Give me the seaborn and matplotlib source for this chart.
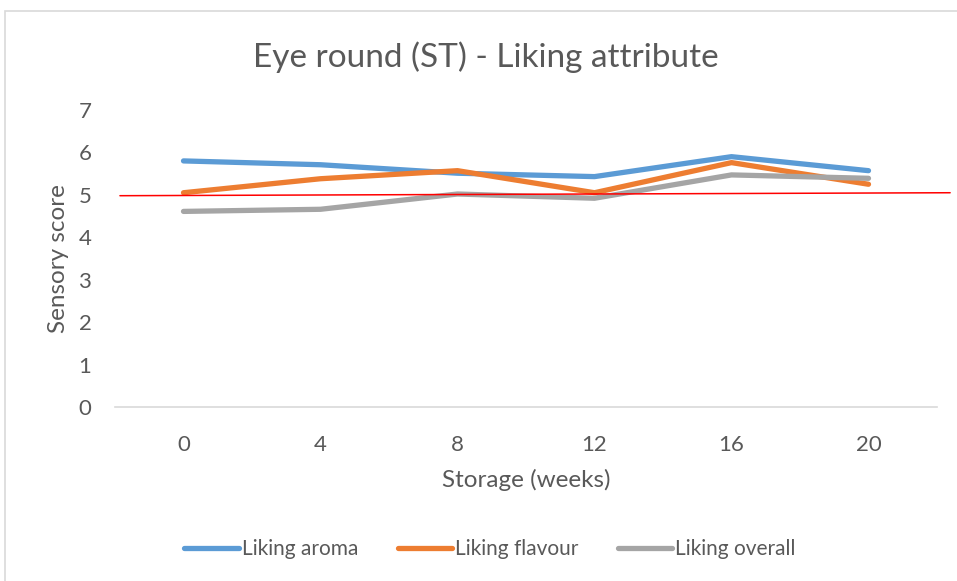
import matplotlib
matplotlib.use("Agg")
import matplotlib.pyplot as plt
import seaborn as sns
import pandas as pd
from matplotlib.lines import Line2D
from matplotlib.patches import Rectangle

weeks = [0, 4, 8, 12, 16, 20]
liking_aroma = [5.80, 5.71, 5.51, 5.43, 5.90, 5.57]
liking_flavour = [5.05, 5.38, 5.57, 5.05, 5.76, 5.25]
liking_overall = [4.61, 4.66, 5.02, 4.92, 5.47, 5.39]
series_names = ["Liking aroma", "Liking flavour", "Liking overall"]
colors = ["#5B9BD5", "#ED7D31", "#A5A5A5"]
threshold = 5

title = "Eye round (ST) - Liking attribute"
xlabel = "Storage (weeks)"
ylabel = "Sensory score"

sns.set_theme(style="white")
FONT = ["Lato", "DejaVu Sans"]
plt.rcParams["font.family"] = FONT
TXT = "#595959"

df = pd.DataFrame({
    "week": weeks * 3,
    "score": liking_aroma + liking_flavour + liking_overall,
    "series": [series_names[0]] * 6 + [series_names[1]] * 6 + [series_names[2]] * 6,
})

fig = plt.figure(figsize=(9.57, 5.81), dpi=100)
fig.patch.set_facecolor("white")
# outer chart frame
fig.add_artist(Rectangle((5 / 957, -0.1), 1.2, 1 - 11 / 581 + 0.1, transform=fig.transFigure,
                         fill=False, edgecolor="#D9D9D9", linewidth=1.2))

ax = fig.add_axes([115 / 957, 1 - 407 / 581, 822 / 957, 297 / 581])
sns.lineplot(data=df, x="week", y="score", hue="series", palette=colors, ax=ax,
             linewidth=3.8, legend=False, solid_capstyle="round")

ax.set_xlim(-2, 22)
ax.set_ylim(0, 7)
ax.set_xticks(weeks)
ax.set_xticklabels([str(w) for w in weeks])
ax.set_yticks(range(0, 8))
ax.tick_params(axis="both", length=0, labelsize=16, colors=TXT)
ax.tick_params(axis="x", pad=20)
ax.tick_params(axis="y", pad=17)
for s in ["top", "right", "left"]:
    ax.spines[s].set_visible(False)
ax.spines["bottom"].set_color("#D9D9D9")
ax.spines["bottom"].set_linewidth(1.2)

ax.set_xlabel(xlabel, fontsize=17.5, color=TXT, labelpad=10)
ax.set_ylabel(ylabel, fontsize=17.5, color=TXT, labelpad=7)

fig.text(486 / 957, 1 - 57 / 581, title, ha="center", va="center",
         fontsize=24, color=TXT)

# threshold line (slightly extends beyond plot area)
ax.plot([0.006, 1.016], [threshold - 0.02, threshold + 0.05], color="#FF0000", linewidth=1.1,
        transform=ax.get_yaxis_transform(), clip_on=False, zorder=5)

handles = [Line2D([0], [0], color=c, linewidth=3.8, solid_capstyle="round") for c in colors]
fig.legend(handles, series_names, loc="center", bbox_to_anchor=(490 / 957, 1 - 549 / 581), ncol=3,
           frameon=False, fontsize=15, handlelength=2.6, handletextpad=0.15, columnspacing=1.9,
           labelcolor=TXT)

fig.savefig("out.png", dpi=100, facecolor="white")
